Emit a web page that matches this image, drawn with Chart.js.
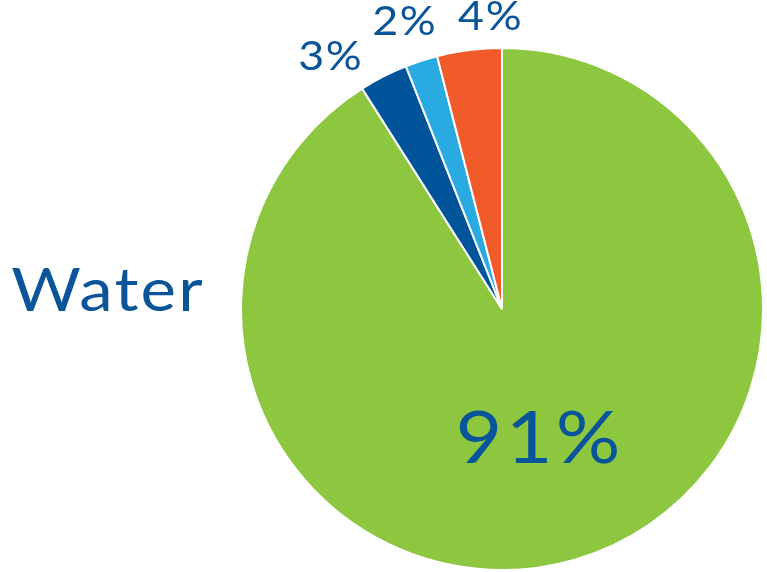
<!DOCTYPE html>
<html>
<head>
<meta charset="utf-8">
<script src="https://cdn.jsdelivr.net/npm/chart.js@4.4.1/dist/chart.umd.min.js"></script>
<style>
  html, body { margin: 0; padding: 0; background: #ffffff; }
  #grafico { display: block; }
</style>
</head>
<body>
<canvas id="grafico" width="767" height="572"></canvas>
<script>
const categorias = ["Water", "Other 1", "Other 2", "Other 3"]
const valores = [91, 3, 2, 4]
const cores = ['#8DC63F', '#00549A', '#29ABE2', '#F15A2B']
const rotulos = ["91%", "3%", "2%", "4%"]
const titulo = "Water"

const corTexto = '#0A5499'

// onde cada rotulo fica: deslocamento de angulo (graus) e distancia (fracao do raio)
const posRotulos = [
    { desvio: 0.8, dist: 0.52, tamanho: 72, espaco: 3 },
    { desvio: -7.3, dist: 1.17, tamanho: 40, espaco: 1.5 },
    { desvio: -0.9, dist: 1.16, tamanho: 40, espaco: 1.5 },
    { desvio: 4.8, dist: 1.12, tamanho: 40, espaco: 1.5 }
]

// letra mais larga, parecida com a fonte do original
function textoLargo(ctx, texto, x, y, espaco) {
    ctx.save()
    ctx.translate(x, y)
    ctx.scale(1.12, 1)
    ctx.letterSpacing = espaco + 'px'
    ctx.fillText(texto, espaco / 2, 0)
    ctx.restore()
}

const pluginRotulos = {
    id: 'rotulos',
    afterDatasetsDraw(chart) {
        const ctx = chart.ctx
        const arcos = chart.getDatasetMeta(0).data
        ctx.save()
        ctx.fillStyle = corTexto
        ctx.textAlign = 'center'
        ctx.textBaseline = 'middle'
        arcos.forEach((arco, i) => {
            const p = posRotulos[i]
            const meio = (arco.startAngle + arco.endAngle) / 2 + p.desvio * Math.PI / 180
            const r = arco.outerRadius * p.dist
            ctx.font = p.tamanho + 'px Lato'
            textoLargo(ctx, rotulos[i], arco.x + Math.cos(meio) * r, arco.y + Math.sin(meio) * r, p.espaco)
        })
        ctx.font = '60px Lato'
        textoLargo(ctx, titulo, chart.chartArea.left - 133, chart.chartArea.top + 245, 2)
        ctx.restore()
    }
}

new Chart(document.getElementById("grafico"), {
    type: 'pie',
    data: {
        labels: categorias,
        datasets: [{
            data: valores,
            backgroundColor: cores,
            borderColor: '#ffffff',
            borderWidth: 2
        }]
    },
    options: {
        responsive: false,
        animation: false,
        layout: {
            padding: { left: 240, right: 3, top: 47, bottom: 1 }
        },
        plugins: {
            legend: { display: false },
            tooltip: { enabled: false }
        }
    },
    plugins: [pluginRotulos]
});
</script>
</body>
</html>
